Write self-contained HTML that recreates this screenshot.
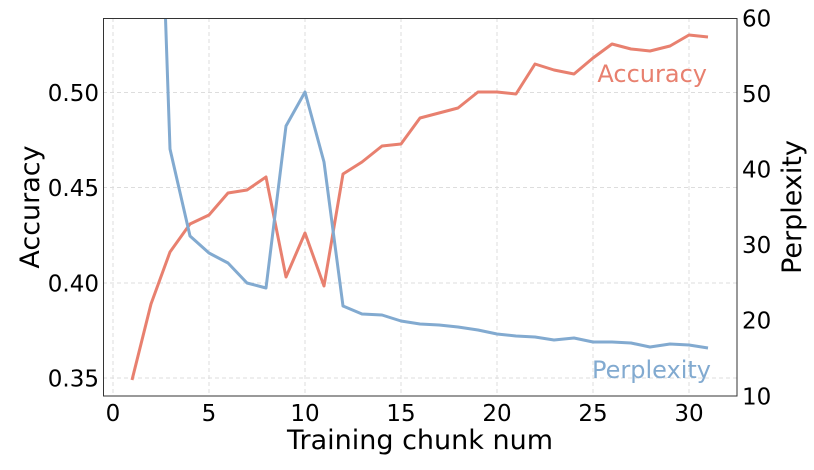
<!DOCTYPE html><html><head><style>body{margin:0;background:#fff}svg{display:block}text{font-family:"DejaVu Sans","Liberation Sans",sans-serif;fill:#000}</style></head><body>
<svg width="814" height="470" viewBox="0 0 814 470">
<defs><clipPath id="c"><rect x="103.5" y="18.5" width="633.5" height="377.5"/></clipPath></defs>
<g stroke="#ddd" stroke-dasharray="4,3" stroke-width="1">
<line x1="113" y1="18" x2="113" y2="396"/><line x1="209" y1="18" x2="209" y2="396"/><line x1="305" y1="18" x2="305" y2="396"/><line x1="401" y1="18" x2="401" y2="396"/><line x1="497" y1="18" x2="497" y2="396"/><line x1="593" y1="18" x2="593" y2="396"/><line x1="689" y1="18" x2="689" y2="396"/>
<line x1="103" y1="92.5" x2="737" y2="92.5"/><line x1="103" y1="187.5" x2="737" y2="187.5"/><line x1="103" y1="283" x2="737" y2="283"/><line x1="103" y1="378" x2="737" y2="378"/>
</g>
<g clip-path="url(#c)" fill="none" stroke-width="3" stroke-linejoin="round">
<polyline stroke="#E8806F" points="132,380 151,304 170,252 190,224 209,215 228,193 247,190 266,177 286,277 305,233 324,286 343,174 362,162 382,146 401,144 420,118 439,113 458,108 478,92 497,92 516,94 535,64 554,70 574,74 593,58 612,44 631,49 650,51 670,46 689,35 708,37"/>
<polyline stroke="#82AAD0" points="158,-200 170,149 190,236 209,253 228,263 247,283 266,288 286,126 305,92 324,162 343,306 362,314 382,315 401,321 420,324 439,325 458,327 478,330 497,334 516,336 535,337 554,340 574,338 593,342 612,342 631,343 650,347 670,344 689,345 708,348"/>
</g>
<rect x="103.5" y="18.5" width="633.5" height="377.5" fill="none" stroke="#333" stroke-width="1"/>
<g font-size="23">
<text x="113" y="421" text-anchor="middle">0</text><text x="209" y="421" text-anchor="middle">5</text><text x="305" y="421" text-anchor="middle">10</text><text x="401" y="421" text-anchor="middle">15</text><text x="497" y="421" text-anchor="middle">20</text><text x="593" y="421" text-anchor="middle">25</text><text x="689" y="421" text-anchor="middle">30</text>
<text x="99" y="101" text-anchor="end">0.50</text><text x="99" y="196" text-anchor="end">0.45</text><text x="99" y="291.5" text-anchor="end">0.40</text><text x="99" y="386.5" text-anchor="end">0.35</text>
<text x="742" y="26.5">60</text><text x="742" y="102">50</text><text x="742" y="177.5">40</text><text x="742" y="253">30</text><text x="742" y="328.5">20</text><text x="742" y="404.5">10</text>
</g>
<text x="420" y="449" font-size="27" text-anchor="middle">Training chunk num</text>
<text transform="translate(39,207) rotate(-90)" font-size="27" text-anchor="middle">Accuracy</text>
<text transform="translate(801,207) rotate(-90)" font-size="27" text-anchor="middle">Perplexity</text>
<text x="707" y="82" font-size="24" text-anchor="end" style="fill:#E8806F">Accuracy</text>
<text x="711" y="378" font-size="24" text-anchor="end" style="fill:#82AAD0">Perplexity</text>
</svg></body></html>
